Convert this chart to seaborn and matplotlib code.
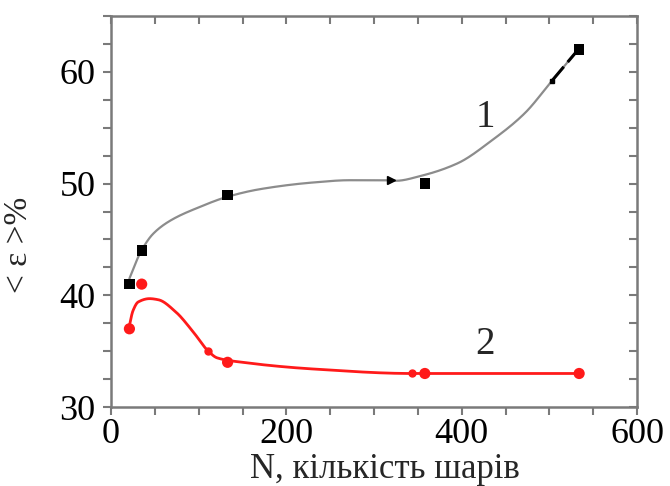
import numpy as np
import pandas as pd
import matplotlib
matplotlib.use("Agg")
import matplotlib.pyplot as plt
from matplotlib.ticker import MultipleLocator
import seaborn as sns

# Measured points: N (number of layers) vs <eps> %
n_layers = [21, 35, 133, 358, 534]
eps_series1 = [41.0, 44.0, 49.0, 50.0, 62.0]
eps_series2 = [37.0, 41.0, 34.0, 33.0, 33.0]

# Anchor points of the smooth guide curves
curve1_n = [21, 34, 48, 68, 101, 132, 170, 231, 272, 319, 325, 354, 395, 435, 472, 503, 533]
curve1_eps = [41.5, 43.9, 45.5, 46.7, 47.9, 48.8, 49.5, 50.1, 50.3, 50.3, 50.25, 50.7, 51.8, 53.9, 56.3, 59.2, 62.0]
curve2_n = [20, 25, 31, 44, 54, 74, 93, 111, 121, 150, 231, 343, 534]
curve2_eps = [36.9, 38.6, 39.4, 39.7, 39.6, 38.5, 36.8, 35.0, 34.4, 34.0, 33.4, 33.0, 33.0]

# Small auxiliary marks along the curves
aux1_n = [319, 503]
aux1_eps = [50.3, 59.2]
aux2_n = [111, 343]
aux2_eps = [35.0, 33.0]

x_ticks = [0, 200, 400, 600]
y_ticks = [30, 40, 50, 60]


def smooth(xs, ys, per_seg=40):
    """Monotone cubic Hermite curve through the anchor points."""
    x = np.asarray(xs, float)
    y = np.asarray(ys, float)
    h = np.diff(x)
    d = np.diff(y) / h
    m = np.zeros_like(y)
    m[0], m[-1] = d[0], d[-1]
    for i in range(1, len(x) - 1):
        if d[i - 1] * d[i] <= 0:
            m[i] = 0.0
        else:
            w1 = 2 * h[i] + h[i - 1]
            w2 = h[i] + 2 * h[i - 1]
            m[i] = (w1 + w2) / (w1 / d[i - 1] + w2 / d[i])
    xo, yo = [], []
    for i in range(len(x) - 1):
        t = np.linspace(0, 1, per_seg, endpoint=False)
        h00 = 2 * t**3 - 3 * t**2 + 1
        h10 = t**3 - 2 * t**2 + t
        h01 = -2 * t**3 + 3 * t**2
        h11 = t**3 - t**2
        xo.append(x[i] + t * h[i])
        yo.append(h00 * y[i] + h10 * h[i] * m[i] + h01 * y[i + 1] + h11 * h[i] * m[i + 1])
    xo.append([x[-1]])
    yo.append([y[-1]])
    return np.concatenate(xo), np.concatenate(yo)


sns.set_style("ticks")
plt.rcParams["font.family"] = ["Liberation Serif", "DejaVu Serif"]

fig = plt.figure(figsize=(6.70, 4.86), dpi=100)
ax = fig.add_axes([111 / 670, 79 / 486, 526 / 670, 391 / 486])

c1x, c1y = smooth(curve1_n, curve1_eps)
c2x, c2y = smooth(curve2_n, curve2_eps)
df_c1 = pd.DataFrame({"N": c1x, "eps": c1y})
df_c2 = pd.DataFrame({"N": c2x, "eps": c2y})

sns.lineplot(data=df_c1, x="N", y="eps", ax=ax, color="#8c8c8c", lw=1.6,
             sort=False, estimator=None)
sns.lineplot(data=df_c2, x="N", y="eps", ax=ax, color="#ff1a1a", lw=2.0,
             sort=False, estimator=None)

# dark end segment of curve 1
ax.plot(curve1_n[-2:], curve1_eps[-2:], color="black", lw=2.2, dashes=(6, 2))

ax.plot(aux1_n[:1], aux1_eps[:1], marker=">", color="black", ms=6, ls="none")
ax.plot(aux1_n[1:], aux1_eps[1:], marker="s", color="black", ms=3, ls="none")
ax.plot(aux2_n, aux2_eps, marker="o", color="#ff1a1a", ms=5, ls="none")

df1 = pd.DataFrame({"N": n_layers, "eps": eps_series1})
df2 = pd.DataFrame({"N": n_layers, "eps": eps_series2})
sns.scatterplot(data=df1, x="N", y="eps", ax=ax, marker="s", color="black",
                s=55, edgecolor="none", zorder=5)
sns.scatterplot(data=df2, x="N", y="eps", ax=ax, marker="o", color="#ff1a1a",
                s=65, edgecolor="none", zorder=5)

ax.text(427, 55.9, "1", fontsize=28, ha="center", va="center")
ax.text(427, 35.6, "2", fontsize=28, ha="center", va="center")

ax.set_xlim(0, 600)
ax.set_ylim(30, 65)
ax.set_xticks(x_ticks)
ax.set_yticks(y_ticks)
ax.xaxis.set_minor_locator(MultipleLocator(50))
ax.yaxis.set_minor_locator(MultipleLocator(2.5))

spine_col = "#7a7a7a"
for s in ax.spines.values():
    s.set_visible(True)
    s.set_color(spine_col)
    s.set_linewidth(1.8)

ax.tick_params(which="both", direction="out", length=6, width=1.5, color=spine_col,
               labelsize=26, pad=5, labelcolor="black")
ax.tick_params(axis="x", which="both", pad=2)
ax.tick_params(which="both", top=True, right=True)
# mirrored ticks on top and right point inward
for tl in ax.xaxis.get_ticklines(minor=False)[1::2] + ax.xaxis.get_ticklines(minor=True)[1::2]:
    tl.set_marker(3)
for tl in ax.yaxis.get_ticklines(minor=False)[1::2] + ax.yaxis.get_ticklines(minor=True)[1::2]:
    tl.set_marker(0)

ax.set_xlabel("N, кількість шарів", fontsize=25)
ax.xaxis.set_label_coords(0.52, -0.118)
ax.set_ylabel("< ε >%", fontsize=24)
ax.yaxis.set_label_coords(-0.146, 0.414)

fig.savefig("out.png", dpi=100)
